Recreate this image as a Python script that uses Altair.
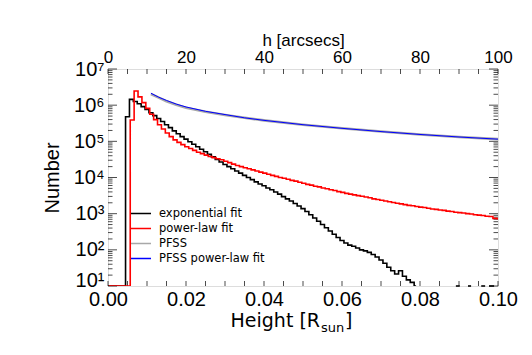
import altair as alt
import pandas as pd

# ---------------- data ----------------
series_names = ["exponential fit", "power-law fit", "PFSS", "PFSS power-law fit"]
series_colors = ["#000000", "#ff0000", "#a8a8a8", "#0000ff"]

# exponential-fit histogram: bin centres [R_sun] and log10(Number)
black_x = [round(0.001 * k, 4) for k in range(80)]
black_log10 = [
    1.0, 1.0, 1.0, 1.0, 1.0, 5.68, 6.16, 6.10, 6.04, 5.96,
    5.88, 5.79, 5.71, 5.63, 5.55, 5.46, 5.38, 5.29, 5.21, 5.13,
    5.06, 4.99, 4.92, 4.85, 4.78, 4.71, 4.64, 4.57, 4.50, 4.43,
    4.36, 4.30, 4.24, 4.18, 4.12, 4.06, 4.00, 3.94, 3.88, 3.82,
    3.77, 3.71, 3.66, 3.60, 3.54, 3.47, 3.41, 3.35, 3.28, 3.21,
    3.14, 3.06, 2.97, 2.88, 2.79, 2.70, 2.61, 2.52, 2.43, 2.34,
    2.26, 2.19, 2.13, 2.10, 2.05, 2.00, 1.97, 1.93, 1.87, 1.80,
    1.72, 1.63, 1.52, 1.42, 1.33, 1.42, 1.27, 1.17, 1.10, 1.0,
]
# short pieces of the exponential-fit histogram lying on the bottom axis
black_tail_start = [0.0892, 0.0923, 0.0957, 0.0977]
black_tail_end = [0.0902, 0.0931, 0.0967, 0.0990]

# power-law-fit histogram
red_x = [round(0.0002 + 0.001 * k, 4) for k in range(101)]
red_log10 = [
    1.0, 1.0, 1.0, 1.0, 1.0, 1.0, 5.59, 6.39, 6.23, 6.07,
    5.91, 5.75, 5.60, 5.46, 5.34, 5.23, 5.13, 5.04, 4.97, 4.91,
    4.85, 4.80, 4.75, 4.70, 4.66, 4.62, 4.58, 4.55, 4.52, 4.49,
    4.45, 4.41, 4.37, 4.33, 4.30, 4.27, 4.24, 4.21, 4.18, 4.15,
    4.12, 4.09, 4.06, 4.03, 4.00, 3.98, 3.95, 3.92, 3.90, 3.87,
    3.84, 3.81, 3.79, 3.76, 3.74, 3.71, 3.69, 3.66, 3.64, 3.61,
    3.59, 3.56, 3.54, 3.52, 3.50, 3.48, 3.46, 3.44, 3.41, 3.39,
    3.37, 3.35, 3.33, 3.31, 3.29, 3.27, 3.25, 3.23, 3.22, 3.20,
    3.18, 3.17, 3.15, 3.13, 3.12, 3.10, 3.09, 3.07, 3.06, 3.04,
    3.03, 3.02, 3.00, 2.99, 2.97, 2.96, 2.95, 2.93, 2.92, 2.87,
    2.86,
]

# PFSS curve and its power-law fit
pfss_x = [0.011, 0.013, 0.015, 0.0175, 0.020, 0.025, 0.030, 0.035,
          0.040, 0.050, 0.060, 0.070, 0.080, 0.090, 0.100]
pfss_log10 = [6.31, 6.21, 6.11, 6.01, 5.93, 5.82, 5.73, 5.65,
              5.58, 5.46, 5.36, 5.27, 5.19, 5.12, 5.06]
pfss_fit_log10 = [6.33, 6.22, 6.13, 6.03, 5.95, 5.83, 5.74, 5.65,
                  5.58, 5.46, 5.36, 5.27, 5.19, 5.12, 5.06]

# axis ticks
x_label_values = [0.0, 0.02, 0.04, 0.06, 0.08, 0.10]
x_tick_values = [round(0.005 * i, 3) for i in range(21)]
y_major = [1e1, 1e2, 1e3, 1e4, 1e5, 1e6, 1e7]
y_minor = [m * 10 ** e for e in range(1, 7) for m in range(2, 10)]
top_label_values = [0, 20, 40, 60, 80, 100]
top_tick_values = [5 * i for i in range(21)]

# ---------------- chart ----------------
W, H = 390, 217
FONT = "DejaVu Sans"


def frame(xs, logs, name):
    return pd.DataFrame({"x": xs, "n": [10 ** v for v in logs], "series": name})


df_black = frame(black_x, black_log10, series_names[0])
df_red = frame(red_x, red_log10, series_names[1])
df_pfss = frame(pfss_x, pfss_log10, series_names[2])
df_fit = frame(pfss_x, pfss_fit_log10, series_names[3])

xs = alt.Scale(domain=[0, 0.1], nice=False, zero=False)
ys = alt.Scale(type="log", domain=[10, 1e7], nice=False)

sup = {10: "10¹", 100: "10²", 1000: "10³", 10000: "10⁴",
       100000: "10⁵", 1000000: "10⁶", 10000000: "10⁷"}
label_expr = " : ".join(f"datum.value == {k} ? '{v}'" for k, v in sup.items()) + " : ''"

xaxis = alt.Axis(orient="bottom", values=x_label_values, format=".2f", title=None,
                 ticks=False, domain=False, grid=False, labelFontSize=20,
                 labelPadding=3, labelFlush=False, labelOverlap=False)
yaxis = alt.Axis(values=y_major, labelExpr=label_expr, title="Number",
                 ticks=False, domain=False, grid=False, labelFontSize=20,
                 labelPadding=4, titleFontSize=20, titlePadding=11,
                 titleFontWeight="normal", labelOverlap=False,
                 labelOffset={"condition": {"test": "datum.value == 10", "value": -6},
                              "value": 0})

X = alt.X("x:Q", scale=xs, axis=xaxis)
Y = alt.Y("n:Q", scale=ys, axis=yaxis)

color = alt.Color(
    "series:N",
    scale=alt.Scale(domain=series_names, range=series_colors),
    legend=alt.Legend(title=None, orient="none", legendX=22, legendY=137,
                      symbolType="stroke", symbolSize=400, symbolStrokeWidth=1.5,
                      labelFontSize=11.5, labelFont=FONT, labelOffset=7,
                      clipHeight=15, rowPadding=0, padding=0, labelColor="black"),
)

# inward tick marks (IDL style)
left_major = alt.Chart(pd.DataFrame({"n": y_major})).mark_tick(
    orient="horizontal", size=9, thickness=1, color="black").encode(y=Y, x=alt.value(4.5))
left_minor = alt.Chart(pd.DataFrame({"n": y_minor})).mark_tick(
    orient="horizontal", size=4.5, thickness=1, color="black").encode(y=Y, x=alt.value(2.25))
right_major = alt.Chart(pd.DataFrame({"n": y_major})).mark_tick(
    orient="horizontal", size=9, thickness=1, color="black").encode(y=Y, x=alt.value(W - 4.5))
right_minor = alt.Chart(pd.DataFrame({"n": y_minor})).mark_tick(
    orient="horizontal", size=4.5, thickness=1, color="black").encode(y=Y, x=alt.value(W - 2.25))
bottom_ticks = alt.Chart(pd.DataFrame({"x": x_tick_values})).mark_tick(
    orient="vertical", size=5, thickness=1, color="black").encode(x=X, y=alt.value(H - 2.5))

black_line = alt.Chart(df_black).mark_line(interpolate="step", strokeWidth=1.6, clip=True).encode(
    x=X, y=Y, color=color)
red_line = alt.Chart(df_red).mark_line(interpolate="step", strokeWidth=1.6, clip=True).encode(
    x=X, y=Y, color=color)
pfss_line = alt.Chart(df_pfss).mark_line(strokeWidth=2.6, clip=True).encode(
    x=X, y=Y, color=color)
fit_line = alt.Chart(df_fit).mark_line(strokeWidth=1, clip=True).encode(
    x=X, y=Y, color=color)

tail = alt.Chart(pd.DataFrame({"x": black_tail_start, "x2": black_tail_end, "n": [10] * 4})).mark_rule(
    color="black", strokeWidth=1.6).encode(x=X, x2="x2:Q", y=Y)

# bottom axis title with subscript
t1 = alt.Chart(pd.DataFrame({"t": ["Height [R"]})).mark_text(
    font=FONT, fontSize=19, align="right", baseline="alphabetic", color="black").encode(
    text="t:N", x=alt.value(212), y=alt.value(258))
t2 = alt.Chart(pd.DataFrame({"t": ["sun"]})).mark_text(
    font=FONT, fontSize=13, align="left", baseline="alphabetic", color="black").encode(
    text="t:N", x=alt.value(213), y=alt.value(263))
t3 = alt.Chart(pd.DataFrame({"t": ["]"]})).mark_text(
    font=FONT, fontSize=19, align="left", baseline="alphabetic", color="black").encode(
    text="t:N", x=alt.value(237), y=alt.value(258))

main = alt.layer(left_major, left_minor, right_major, right_minor, bottom_ticks,
                 black_line, tail, red_line, pfss_line, fit_line, t1, t2, t3)

top = alt.Chart(pd.DataFrame({"h": top_tick_values})).mark_tick(
    orient="vertical", size=5, thickness=1, color="black").encode(
    x=alt.X("h:Q", scale=alt.Scale(domain=[0, 100], nice=False),
            axis=alt.Axis(orient="top", values=top_label_values, title="h [arcsecs]",
                          ticks=False, domain=False, grid=False, labelFontSize=17,
                          labelPadding=3, labelFlush=False, labelOverlap=False,
                          titleFontSize=17, titleFontWeight="normal", titlePadding=-1)),
    y=alt.value(2.5))

chart = alt.layer(main, top).resolve_scale(x="independent").properties(
    width=W, height=H,
    autosize=alt.AutoSizeParams(type="none"),
    padding={"left": 100, "top": 61, "right": 26, "bottom": 52},
).configure_view(stroke="black", strokeWidth=1).configure_axis(
    labelFont=FONT, titleFont=FONT, labelColor="black", titleColor="black"
).configure(background="white")

chart.save("out.html", embed_options={"renderer": "svg", "actions": False})
